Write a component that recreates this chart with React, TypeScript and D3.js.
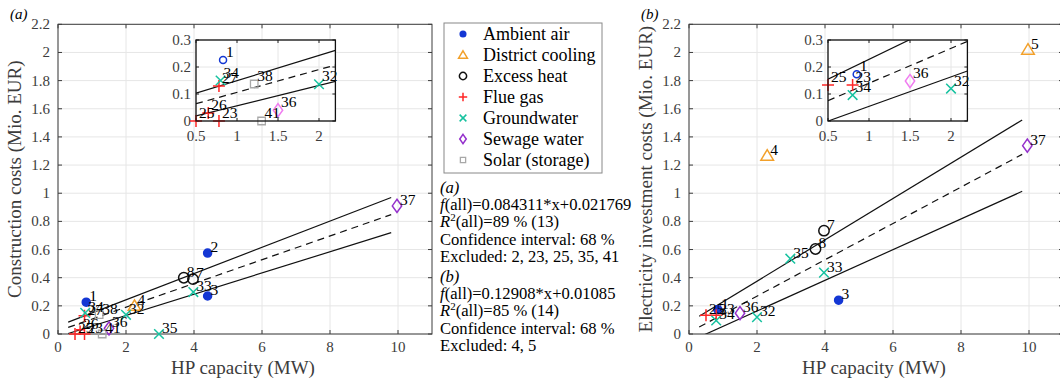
import React from "react";
import * as d3 from "d3";

// heat source categories
const sources = ["Ambient air", "District cooling", "Excess heat", "Flue gas", "Groundwater", "Sewage water", "Solar (storage)"];
const sourceColors = ["#1437d4", "#f2a02a", "#111111", "#ff2626", "#17c2a0", "#9430cc", "#a8a8a8"];
const insetColors = ["#1437d4", "#f2a02a", "#111111", "#ff2626", "#17c2a0", "#f07cf0", "#a8a8a8"];
const sourceShapes = ["dot", "triangle", "circle", "plus", "x", "diamond", "square"];

// (a) construction costs
const idsA = [1, 2, 3, 4, 7, 8, 23, 25, 26, 27, 32, 33, 34, 35, 36, 37, 38, 41];
const typeA = [0, 0, 0, 1, 2, 2, 3, 3, 3, 3, 4, 4, 4, 4, 5, 5, 6, 6];
const capA = [0.83, 4.4, 4.4, 2.25, 3.97, 3.7, 0.78, 0.5, 0.65, 0.78, 2.0, 3.98, 0.8, 2.97, 1.5, 9.97, 1.21, 1.3];
const costA = [0.226, 0.575, 0.27, 0.2, 0.39, 0.4, 0, 0, 0.03, 0.13, 0.136, 0.298, 0.15, 0, 0.04, 0.91, 0.137, 0];

// (b) electricity investment costs
const idsB = [1, 3, 4, 5, 7, 8, 23, 25, 32, 33, 34, 35, 36, 37];
const typeB = [0, 0, 1, 1, 2, 2, 3, 3, 4, 4, 4, 4, 5, 5];
const capB = [0.85, 4.4, 2.3, 9.97, 3.97, 3.72, 0.8, 0.5, 2.0, 3.97, 0.8, 2.98, 1.5, 9.95];
const costB = [0.173, 0.24, 1.267, 2.02, 0.734, 0.604, 0.133, 0.133, 0.12, 0.436, 0.096, 0.535, 0.148, 1.338];

// fit lines [slope, intercept]: fit, upper bound, lower bound
const fitA = [[0.084311, 0.021769], [0.0932, 0.0564], [0.0754, -0.019]];
const fitB = [[0.12908, 0.01085], [0.1468, 0.0816], [0.109, -0.0547]];
const fitRange = [0.3, 9.8];

const xTicks = [0, 2, 4, 6, 8, 10];
const yTicks = [0, 0.2, 0.4, 0.6, 0.8, 1, 1.2, 1.4, 1.6, 1.8, 2, 2.2];
const insetXTicks = [0.5, 1, 1.5, 2];
const insetYTicks = [0, 0.1, 0.2, 0.3];

const notesA = ["f(all)=0.084311*x+0.021769", "89 % (13)", "Confidence interval: 68 %", "Excluded: 2, 23, 25, 35, 41"];
const notesB = ["f(all)=0.12908*x+0.01085", "85 % (14)", "Confidence interval: 68 %", "Excluded: 4, 5"];

const FONT = "Liberation Serif, DejaVu Serif, serif";
const AX = "#3c3c3c";

// marker path centred on 0,0
function markerPath(shape: string, s: number) {
  const p = d3.path();
  if (shape === "dot" || shape === "circle") {
    p.arc(0, 0, s, 0, Math.PI * 2);
  } else if (shape === "triangle") {
    p.moveTo(0, -s);
    p.lineTo(s * 1.05, s * 0.75);
    p.lineTo(-s * 1.05, s * 0.75);
    p.closePath();
  } else if (shape === "plus") {
    p.moveTo(-s, 0); p.lineTo(s, 0);
    p.moveTo(0, -s); p.lineTo(0, s);
  } else if (shape === "x") {
    const r = s * 0.8;
    p.moveTo(-r, -r); p.lineTo(r, r);
    p.moveTo(-r, r); p.lineTo(r, -r);
  } else if (shape === "diamond") {
    p.moveTo(0, -s * 1.2); p.lineTo(s * 0.85, 0); p.lineTo(0, s * 1.2); p.lineTo(-s * 0.85, 0);
    p.closePath();
  } else {
    p.rect(-s * 0.75, -s * 0.75, s * 1.5, s * 1.5);
  }
  return p.toString();
}

const markerSize: Record<string, number> = { dot: 4, circle: 5.2, triangle: 6, plus: 6, x: 6, diamond: 5.5, square: 5 };

function Marker({ x, y, t, inset, small }: { x: number; y: number; t: number; inset?: boolean; small?: boolean }) {
  const shape = sourceShapes[t];
  const col = inset ? insetColors[t] : sourceColors[t];
  const filled = shape === "dot" && !inset;
  let s = markerSize[shape];
  if (inset && shape === "dot") s = 3.5;
  if (small) s = s * 0.7;
  return (
    <path
      d={markerPath(inset && shape === "dot" ? "circle" : shape, s)}
      transform={`translate(${x},${y})`}
      fill={filled ? col : "none"}
      stroke={col}
      strokeWidth={shape === "square" ? 1.3 : 1.5}
    />
  );
}

function Panel({ id, left, ids, types, caps, costs, fits, insetLeft, yLabel }: any) {
  const x = d3.scaleLinear().domain([0, 11]).range([left, left + 374]);
  const y = d3.scaleLinear().domain([0, 2.2]).range([334, 24.3]);
  const ix = d3.scaleLinear().domain([0.5, 2.2]).range([insetLeft, insetLeft + 139.4]);
  const iy = d3.scaleLinear().domain([0, 0.3]).range([121, 40]);

  const lineMain = d3.line<number>().x((v) => x(v[0])).y((v) => y(v[1]));
  const lineInset = d3.line<number>().x((v) => ix(v[0])).y((v) => iy(v[1]));
  const seg = (f: number[], a: number, b: number) => [[a, f[0] * a + f[1]], [b, f[0] * b + f[1]]];

  const [x0, x1] = x.range();
  const [y0, y1] = y.range();
  const [ix0, ix1] = ix.range();
  const [iy0, iy1] = iy.range();

  const inInset = (i: number) => caps[i] >= 0.45 && caps[i] <= 2.21 && costs[i] <= 0.3;

  return (
    <g>
      <defs>
        <clipPath id={`clip-${id}`}>
          <rect x={x0} y={y1} width={x1 - x0} height={y0 - y1} />
        </clipPath>
        <clipPath id={`iclip-${id}`}>
          <rect x={ix0} y={iy1} width={ix1 - ix0} height={iy0 - iy1} />
        </clipPath>
      </defs>
      <rect x={x0} y={y1} width={x1 - x0} height={y0 - y1} fill="#fff" />
      {xTicks.map((t) => (
        <line key={`gx${t}`} x1={x(t)} x2={x(t)} y1={y0} y2={y1} stroke="#e6e6e6" />
      ))}
      {yTicks.map((t) => (
        <line key={`gy${t}`} x1={x0} x2={x1} y1={y(t)} y2={y(t)} stroke="#e6e6e6" />
      ))}
      <g clipPath={`url(#clip-${id})`}>
        {fits.map((f: number[], k: number) => (
          <path key={k} d={lineMain(seg(f, fitRange[0], fitRange[1]) as any) || ""} fill="none" stroke="#111"
            strokeWidth={1.2} strokeDasharray={k === 0 ? "7,5" : undefined} />
        ))}
      </g>
      {xTicks.map((t) => (
        <g key={`tx${t}`}>
          <line x1={x(t)} x2={x(t)} y1={y0} y2={y0 - 4} stroke={AX} />
          <line x1={x(t)} x2={x(t)} y1={y1} y2={y1 + 4} stroke={AX} />
          <text x={x(t)} y={y0 + 18} textAnchor="middle" fontSize={15} fill={AX}>{t}</text>
        </g>
      ))}
      {yTicks.map((t) => (
        <g key={`ty${t}`}>
          <line x1={x0} x2={x0 + 4} y1={y(t)} y2={y(t)} stroke={AX} />
          <line x1={x1} x2={x1 - 4} y1={y(t)} y2={y(t)} stroke={AX} />
          <text x={x0 - 8} y={y(t) + 5} textAnchor="end" fontSize={15} fill={AX}>{t}</text>
        </g>
      ))}
      <rect x={x0} y={y1} width={x1 - x0} height={y0 - y1} fill="none" stroke={AX} strokeWidth={1} />
      {ids.map((n: number, i: number) => (
        <Marker key={`m${n}`} x={x(caps[i])} y={y(costs[i])} t={types[i]} small={n === 26} />
      ))}
      {ids.map((n: number, i: number) => (
        <text key={`l${n}`} x={x(caps[i]) + 3} y={y(costs[i]) - 1} fontSize={15.5} fill="#000">{n}</text>
      ))}
      <text transform={`translate(${x0 - 37},${(y0 + y1) / 2}) rotate(-90)`} textAnchor="middle" fontSize={19} fill={AX}>{yLabel}</text>
      <text x={(x0 + x1) / 2 - 2} y={374} textAnchor="middle" fontSize={19} fill={AX}>HP capacity (MW)</text>

      {/* inset zoom */}
      <rect x={ix0} y={iy1} width={ix1 - ix0} height={iy0 - iy1} fill="#fff" />
      {insetXTicks.map((t) => (
        <line key={`igx${t}`} x1={ix(t)} x2={ix(t)} y1={iy0} y2={iy1} stroke="#e6e6e6" />
      ))}
      {insetYTicks.map((t) => (
        <line key={`igy${t}`} x1={ix0} x2={ix1} y1={iy(t)} y2={iy(t)} stroke="#e6e6e6" />
      ))}
      <g clipPath={`url(#iclip-${id})`}>
        {fits.map((f: number[], k: number) => (
          <path key={k} d={lineInset(seg(f, 0.5, 2.2) as any) || ""} fill="none" stroke="#111"
            strokeWidth={1.2} strokeDasharray={k === 0 ? "7,5" : undefined} />
        ))}
      </g>
      {insetXTicks.map((t) => (
        <g key={`itx${t}`}>
          <line x1={ix(t)} x2={ix(t)} y1={iy0} y2={iy0 - 3} stroke="#222" />
          <line x1={ix(t)} x2={ix(t)} y1={iy1} y2={iy1 + 3} stroke="#222" />
          <text x={ix(t)} y={iy0 + 20} textAnchor="middle" fontSize={15} fill={AX}>{t}</text>
        </g>
      ))}
      {insetYTicks.map((t) => (
        <g key={`ity${t}`}>
          <line x1={ix0} x2={ix0 + 3} y1={iy(t)} y2={iy(t)} stroke="#222" />
          <line x1={ix1} x2={ix1 - 3} y1={iy(t)} y2={iy(t)} stroke="#222" />
          <text x={ix0 - 5} y={iy(t) + 5} textAnchor="end" fontSize={15} fill={AX}>{t}</text>
        </g>
      ))}
      {ids.map((n: number, i: number) =>
        inInset(i) ? <Marker key={`im${n}`} x={ix(caps[i])} y={iy(costs[i])} t={types[i]} inset /> : null
      )}
      {ids.map((n: number, i: number) =>
        inInset(i) ? (
          <text key={`il${n}`} x={ix(caps[i]) + 3} y={iy(costs[i]) - 3} fontSize={15.5} fill="#000">{n}</text>
        ) : null
      )}
      <rect x={ix0} y={iy1} width={ix1 - ix0} height={iy0 - iy1} fill="none" stroke="#111" strokeWidth={1.3} />
      <text x={x0 - 48} y={19} fontSize={15} fontStyle="italic" fill="#000">({id})</text>
    </g>
  );
}

function Notes({ top, lines, tag }: { top: number; lines: string[]; tag: string }) {
  const lh = 17.2;
  const [f, r2, ci, ex] = lines;
  return (
    <g fontSize={16.6} fill="#000">
      <text x={440} y={top} fontStyle="italic">({tag})</text>
      <text x={440} y={top + lh}>
        <tspan fontStyle="italic">f</tspan>{f.slice(1)}
      </text>
      <text x={440} y={top + lh * 2}>
        <tspan fontStyle="italic">R</tspan>
        <tspan fontSize={11} dy={-6}>2</tspan>
        <tspan dy={6}>(all)={r2}</tspan>
      </text>
      <text x={440} y={top + lh * 3}>{ci}</text>
      <text x={440} y={top + lh * 4}>{ex}</text>
    </g>
  );
}

export default function App() {
  return (
    <svg width={1060} height={380} style={{ position: "absolute", left: 0, top: 0, background: "#fff", fontFamily: FONT }}>
      <rect width={1060} height={380} fill="#fff" />
      <Panel id="a" left={58} ids={idsA} types={typeA} caps={capA} costs={costA} fits={fitA} insetLeft={196}
        yLabel="Construction costs (Mio. EUR)" />
      <Panel id="b" left={689} ids={idsB} types={typeB} caps={capB} costs={costB} fits={fitB} insetLeft={828}
        yLabel="Electricity investment costs (Mio. EUR)" />
      <g>
        <rect x={444} y={23} width={158} height={150} fill="#fff" stroke="#888" />
        {sources.map((s, i) => (
          <g key={s}>
            <Marker x={463} y={34 + i * 21} t={i} small />
            <text x={483} y={34 + i * 21 + 6} fontSize={18} fill="#000">{s}</text>
          </g>
        ))}
      </g>
      <Notes top={193} lines={notesA} tag="a" />
      <Notes top={282} lines={notesB} tag="b" />
    </svg>
  );
}
